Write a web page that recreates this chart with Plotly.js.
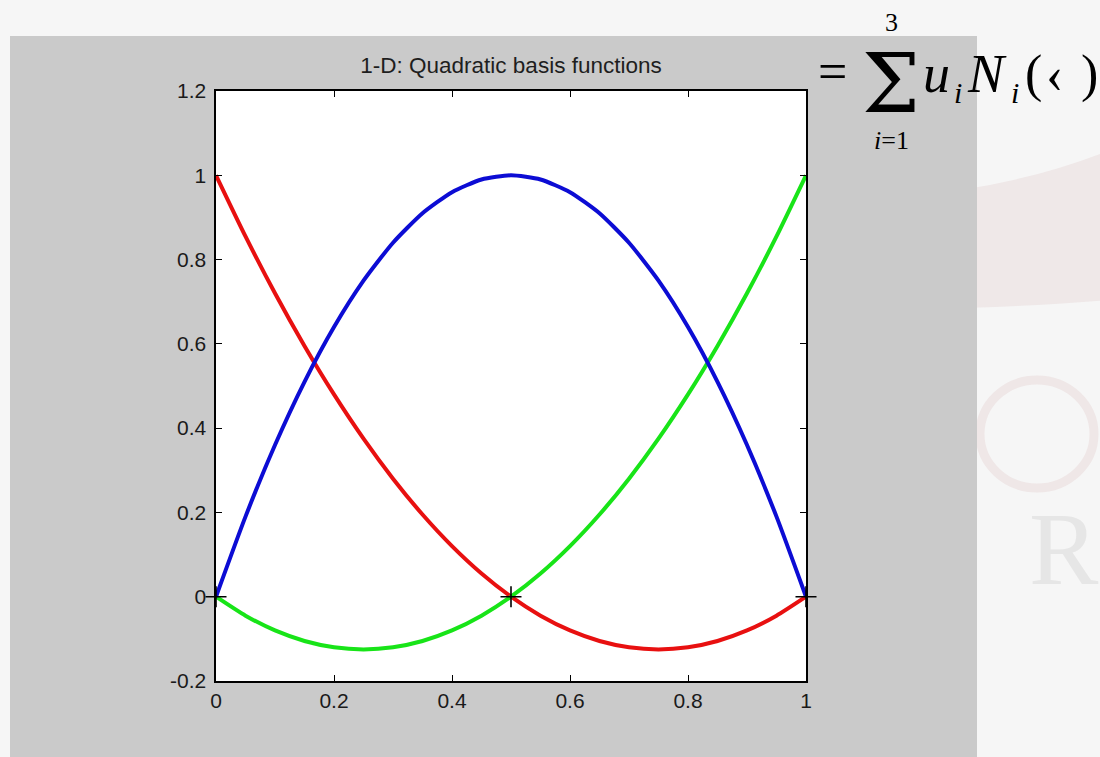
<!DOCTYPE html>
<html>
<head>
<meta charset="utf-8">
<script src="https://cdn.plot.ly/plotly-3.0.1.min.js"></script>
<style>
  html, body { margin: 0; padding: 0; background: #f6f6f6; }
  #chart { width: 1100px; height: 757px; }
</style>
</head>
<body>
<div id="chart"></div>
<script>
// Sample points along the element (local coordinate 0..1)
const xi = [0, 0.05, 0.1, 0.15, 0.2, 0.25, 0.3, 0.35, 0.4, 0.45, 0.5,
            0.55, 0.6, 0.65, 0.7, 0.75, 0.8, 0.85, 0.9, 0.95, 1];

// Quadratic basis functions N1 (left node), N2 (mid node), N3 (right node)
const N1 = [1, 0.855, 0.72, 0.595, 0.48, 0.375, 0.28, 0.195, 0.12, 0.055, 0,
            -0.045, -0.08, -0.105, -0.12, -0.125, -0.12, -0.105, -0.08, -0.045, 0];
const N2 = [0, 0.19, 0.36, 0.51, 0.64, 0.75, 0.84, 0.91, 0.96, 0.99, 1,
            0.99, 0.96, 0.91, 0.84, 0.75, 0.64, 0.51, 0.36, 0.19, 0];
const N3 = [0, -0.045, -0.08, -0.105, -0.12, -0.125, -0.12, -0.105, -0.08, -0.045, 0,
            0.055, 0.12, 0.195, 0.28, 0.375, 0.48, 0.595, 0.72, 0.855, 1];

// Element nodes
const nodeX = [0, 0.5, 1];
const nodeY = [0, 0, 0];

// Tick positions and labels
const xTickVals = [0, 0.2, 0.4, 0.6, 0.8, 1];
const xTickText = ['0', '0.2', '0.4', '0.6', '0.8', '1'];
const yTickVals = [-0.2, 0, 0.2, 0.4, 0.6, 0.8, 1, 1.2];
const yTickText = ['-0.2', '0', '0.2', '0.4', '0.6', '0.8', '1', '1.2'];

const W = 1100, H = 757;
const M = { l: 216, r: 294, t: 91, b: 76 };
const PW = W - M.l - M.r, PH = H - M.t - M.b;
// pixel -> paper coordinates for decoration placement
const px = v => (v - M.l) / PW;
const py = v => (H - M.b - v) / PH;

const lineStyle = (color) => ({ color: color, width: 4, shape: 'spline', smoothing: 0.6 });

const traces = [
  { x: xi, y: N1, mode: 'lines', line: lineStyle('#e81010'), hoverinfo: 'skip' },
  { x: xi, y: N3, mode: 'lines', line: lineStyle('#18e418'), hoverinfo: 'skip' },
  { x: xi, y: N2, mode: 'lines', line: lineStyle('#0c0cd4'), hoverinfo: 'skip' },
  { x: nodeX, y: nodeY, mode: 'markers', cliponaxis: false, hoverinfo: 'skip',
    marker: { symbol: 'cross-thin', size: 15, line: { color: '#000', width: 1.6 } } }
];

const serif = 'Liberation Serif, Times New Roman, serif';
function ann(text, x, y, size, extra) {
  return Object.assign({
    text: text, xref: 'paper', yref: 'paper', x: px(x), y: py(y),
    xanchor: 'center', yanchor: 'middle', showarrow: false, borderpad: 0,
    font: { family: serif, size: size, color: '#000' }
  }, extra || {});
}

const annotations = [
  ann('=', 832, 72, 52),
  ann('\u03A3', 891, 83, 82, { height: 64, valign: 'middle',
    font: { family: 'DejaVu Serif, serif', size: 82, color: '#000' } }),
  ann('3', 891, 22, 26, { height: 22, valign: 'middle' }),
  ann('<i>i</i>=1', 891, 140, 26, { height: 22, valign: 'middle' }),
  ann('<i>u</i>', 936, 74.5, 54),
  ann('<i>i</i>', 958, 93, 30),
  ann('<i>N</i>', 987, 74.5, 54),
  ann('<i>i</i>', 1015, 93, 30),
  ann('(', 1033, 74.5, 52),
  ann('\u2039', 1054, 74.5, 52),
  ann(')', 1089, 74.5, 52),
  // faint backdrop lettering
  ann('R', 1100, 548, 104, { xanchor: 'right', font: { family: serif, size: 104, color: '#e6e6e6' } })
];

const shapes = [
  // faint backdrop swash and ring on the right
  { type: 'path', layer: 'below', xref: 'paper', yref: 'paper',
    path: `M ${px(960)} ${py(190)} Q ${px(1040)} ${py(178)} ${px(1110)} ${py(150)} L ${px(1110)} ${py(300)} Q ${px(1040)} ${py(306)} ${px(960)} ${py(308)} Z`,
    fillcolor: '#efe8e8', line: { width: 0 } },
  { type: 'circle', layer: 'below', xref: 'paper', yref: 'paper',
    x0: px(980), x1: px(1094), y0: py(488), y1: py(380),
    fillcolor: 'rgba(0,0,0,0)', line: { color: '#efe7e7', width: 9 } },
  // grey figure panel
  { type: 'rect', layer: 'below', xref: 'paper', yref: 'paper',
    x0: px(10), x1: px(977), y0: py(H + 2), y1: py(36),
    fillcolor: '#cacaca', line: { width: 0 } },
  // white axes area
  { type: 'rect', layer: 'below', xref: 'paper', yref: 'paper',
    x0: 0, x1: 1, y0: 0, y1: 1, fillcolor: '#ffffff', line: { width: 0 } }
];

const axisBase = {
  showline: true, linecolor: '#000', linewidth: 1.6, mirror: 'ticks',
  ticks: 'inside', ticklen: 6, tickwidth: 1, tickcolor: '#000',
  showgrid: false, zeroline: false, tickmode: 'array',
  tickfont: { family: 'Liberation Sans, Arial, sans-serif', size: 21, color: '#1a1a1a' }
};

const layout = {
  width: W, height: H, margin: M,
  paper_bgcolor: '#f6f6f6', plot_bgcolor: 'rgba(0,0,0,0)',
  showlegend: false,
  title: {
    text: '1-D: Quadratic basis functions',
    font: { family: 'Liberation Sans, Arial, sans-serif', size: 22.5, color: '#1e1e1e' },
    x: 0.5, xref: 'paper', xanchor: 'center',
    y: 1 - 65 / H, yref: 'container', yanchor: 'middle'
  },
  xaxis: Object.assign({}, axisBase, { range: [0, 1], tickvals: xTickVals, ticktext: xTickText, ticklabelstandoff: 0 }),
  yaxis: Object.assign({}, axisBase, { range: [-0.2, 1.2], tickvals: yTickVals, ticktext: yTickText, ticklabelstandoff: 4 }),
  shapes: shapes,
  annotations: annotations
};

Plotly.newPlot('chart', traces, layout, { displayModeBar: false, staticPlot: true });
</script>
</body>
</html>
